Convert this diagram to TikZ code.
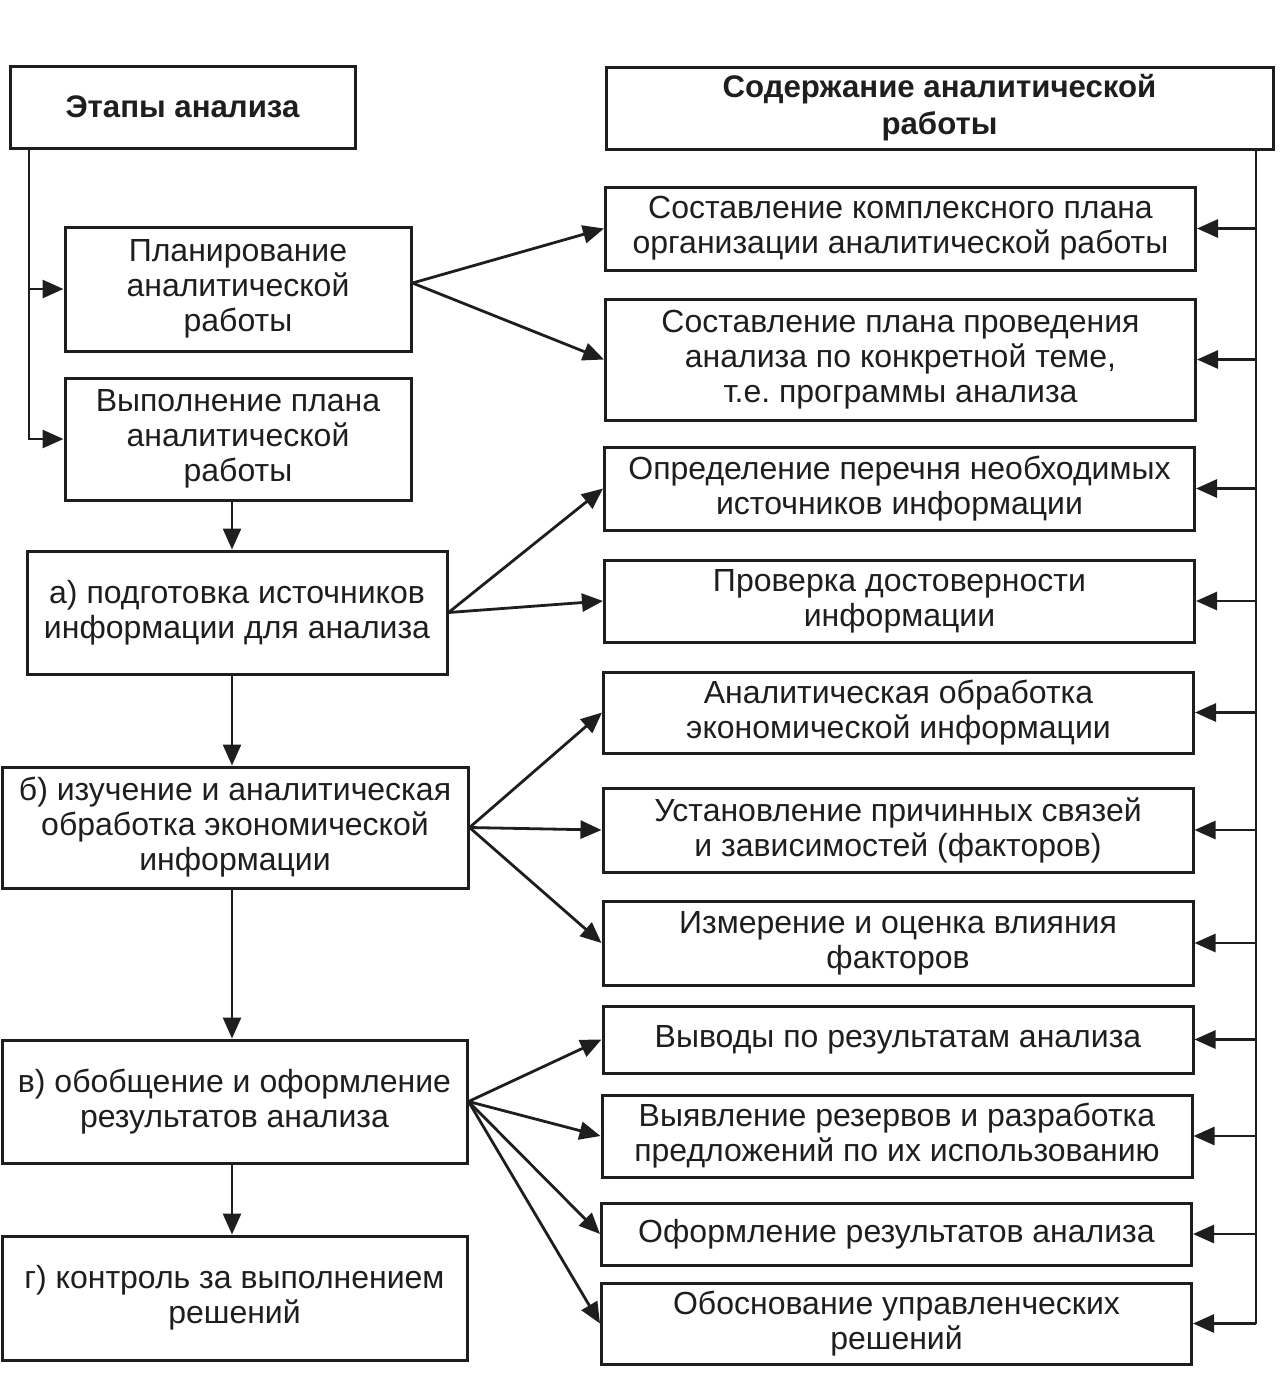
\documentclass[tikz,border=0pt]{standalone}
\usepackage{fontspec}
\setmainfont{Liberation Sans}
\usepackage{xcolor}
\usepackage{tikz}
\usetikzlibrary{arrows.meta,positioning,calc}
\frenchspacing
\definecolor{ANink}{RGB}{30,30,30}
\tikzstyle{abox}   = [rectangle, draw=ANink, line width=1.5pt, text=ANink,
                      align=center, inner sep=2pt,
                      font=\fontsize{16}{17.5}\selectfont]
\tikzstyle{Bhead}  = [abox, font=\fontsize{15.6}{18.5}\selectfont\bfseries]
\tikzstyle{Bstage} = [abox]
\tikzstyle{Btask}  = [abox, minimum width=295pt]
\tikzstyle{link}   = [draw=ANink, line width=1.4pt]

\begin{document}
\begin{tikzpicture}[x=0.5pt, y=-0.5pt, >={Triangle[length=10.5pt,width=9pt]}]
  \useasboundingbox (0,0) rectangle (1288,1389);
  \coordinate (spL) at (29,0);
  \coordinate (spR) at (1256,0);
  % left column
  \node[Bhead,  minimum width=172.5pt, minimum height=41pt]   (etapy)  at (182.5,107)   {Этапы анализа};
  \node[Bstage, minimum width=173pt,   minimum height=62pt]   (plan)   at (238,289)     {Планирование\\аналитической\\работы};
  \node[Bstage, minimum width=173pt,   minimum height=61pt]   (vypoln) at (238,439)     {Выполнение плана\\аналитической\\работы};
  \node[Bstage, minimum width=210pt,   minimum height=61.5pt] (podg)   at (237,612.5)   {а) подготовка источников\\информации для анализа};
  \node[Bstage, minimum width=233pt,   minimum height=60.5pt] (izuch)  at (235,827.5)   {б) изучение и аналитическая\\обработка экономической\\информации};
  \node[Bstage, minimum width=232.5pt, minimum height=61.5pt] (obobsh) at (234.5,1101.5){в) обобщение и оформление\\результатов анализа};
  \node[Bstage, minimum width=232.5pt, minimum height=62pt]   (kontr)  at (234.5,1298)  {г) контроль за выполнением\\решений};
  % right column
  \node[Bhead,  minimum width=333.5pt, minimum height=41pt]   (soder)  at (939.5,108)   {Содержание аналитической\\работы};
  \node[Btask,  minimum height=41.5pt] (komplex) at (900.5,228.5) {Составление комплексного плана\\организации аналитической работы};
  \node[Btask,  minimum height=60.5pt] (progr)   at (900.5,359.5) {Составление плана проведения\\анализа по конкретной теме,\\т.е. программы анализа};
  \node[Btask,  minimum height=41.5pt] (perech)  at (899.5,488.5) {Определение перечня необходимых\\источников информации};
  \node[Btask,  minimum height=41pt]   (prover)  at (899.5,601)   {Проверка достоверности\\информации};
  \node[Btask,  minimum height=40.5pt] (obrab)   at (898.5,712.5) {Аналитическая обработка\\экономической информации};
  \node[Btask,  minimum height=42pt]   (svyaz)   at (898,830)     {Установление причинных связей\\и зависимостей (факторов)};
  \node[Btask,  minimum height=42pt]   (izmer)   at (898,943)     {Измерение и оценка влияния\\факторов};
  \node[Btask,  minimum height=33.5pt] (vyvod)   at (898,1039.5)  {Выводы по результатам анализа};
  \node[Btask,  minimum height=41pt]   (rezerv)  at (897,1136)    {Выявление резервов и разработка\\предложений по их использованию};
  \node[Btask,  minimum height=31pt]   (oform)   at (896.5,1234)  {Оформление результатов анализа};
  \node[Btask,  minimum height=40.5pt] (obosn)   at (896.5,1323.5){Обоснование управленческих\\решений};

  \draw[link,->] (etapy.south -| spL) |- (plan.west);
  \draw[link,->] (etapy.south -| spL) |- (vypoln.west);
  \draw[link,->] (vypoln.south -| 232,0) -- (podg.north -| 232,0);
  \draw[link,->] (podg.south -| 232,0)   -- (izuch.north -| 232,0);
  \draw[link,->] (izuch.south -| 232,0)  -- (obobsh.north -| 232,0);
  \draw[link,->] (obobsh.south -| 232,0) -- (kontr.north -| 232,0);

  \foreach \t in {komplex,progr}     \draw[link,->] ([yshift=3pt]plan.east) -- (\t.west);
  \foreach \t in {perech,prover}     \draw[link,->] (podg.east) -- (\t.west);
  \foreach \t in {obrab,svyaz,izmer} \draw[link,->] (izuch.east) -- (\t.west);
  \foreach \t in {vyvod,rezerv,oform,obosn} \draw[link,->] (obobsh.east) -- (\t.west);

  \draw[link] (soder.south -| spR) -- (obosn.east -| spR);
  \foreach \t in {komplex,progr,perech,prover,obrab,svyaz,izmer,vyvod,rezerv,oform,obosn}
    \draw[link,->] (\t.east -| spR) -- (\t.east);
\end{tikzpicture}
\end{document}
